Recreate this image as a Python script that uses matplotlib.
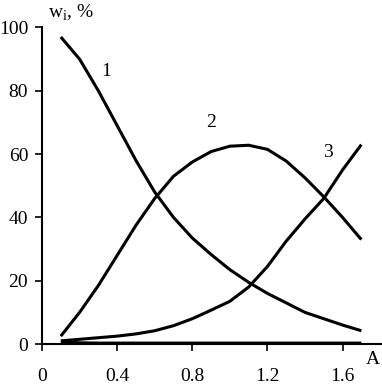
import matplotlib
matplotlib.use("Agg")
import matplotlib.pyplot as plt

# Dados
a = [0.1, 0.2, 0.3, 0.4, 0.5, 0.6, 0.7, 0.8, 0.9, 1.0, 1.1, 1.2, 1.3, 1.4, 1.5, 1.6, 1.7]
curva1 = [97, 90, 80, 69, 58, 48, 40, 33.5, 28.3, 23.5, 19.5, 16, 13, 10, 8, 6, 4.2]
curva2 = [2.5, 10, 18.5, 28, 37.5, 46, 53, 57.5, 60.8, 62.5, 62.8, 61.5, 57.8, 52.5, 46.5, 40, 33]
curva3 = [1, 1.5, 2, 2.5, 3.2, 4.2, 5.8, 8, 10.7, 13.5, 18, 24.5, 32.5, 39.5, 46, 55, 63]
curva4 = [0.6, 0.4, 0.3, 0.3, 0.3, 0.3, 0.3, 0.3, 0.3, 0.3, 0.3, 0.3, 0.3, 0.3, 0.3, 0.3, 0.3]

xticks = [0, 0.4, 0.8, 1.2, 1.6]
xtick_labels = ["0", "0.4", "0.8", "1.2", "1.6"]
yticks = [0, 20, 40, 60, 80, 100]

plt.rcParams["font.family"] = ["Liberation Serif", "DejaVu Serif"]
fs = 14

fig = plt.figure(figsize=(3.82, 3.87), dpi=100)
ax = fig.add_axes([0.11, 0.111, 0.89, 0.818])

for serie in [curva1, curva2, curva3, curva4]:
    ax.plot(a, serie, color="black", lw=2.2, solid_capstyle="butt", solid_joinstyle="round")

ax.set_xlim(0, 1.81)
ax.set_ylim(0, 100)
ax.set_xticks(xticks)
ax.set_xticklabels(xtick_labels)
ax.set_yticks(yticks)

ax.spines["top"].set_visible(False)
ax.spines["right"].set_visible(False)
ax.spines["left"].set_linewidth(1.5)
ax.spines["bottom"].set_linewidth(1.5)
ax.tick_params(axis="x", direction="out", length=5, width=1.2, pad=12, labelsize=fs)
ax.tick_params(axis="y", direction="out", length=5, width=1.2, pad=5, labelsize=fs)

# Rótulos das curvas
ax.text(0.34, 86, "1", fontsize=fs, ha="center", va="center")
ax.text(0.9, 70, "2", fontsize=fs, ha="center", va="center")
ax.text(1.52, 60.5, "3", fontsize=fs, ha="center", va="center")

fig.text(0.125, 0.966, "w$_{\\mathregular{i}}$, %", fontsize=fs, ha="left", va="center")
fig.text(0.976, 0.07, "A", fontsize=fs, ha="center", va="center")

plt.savefig("out.png", dpi=100)
